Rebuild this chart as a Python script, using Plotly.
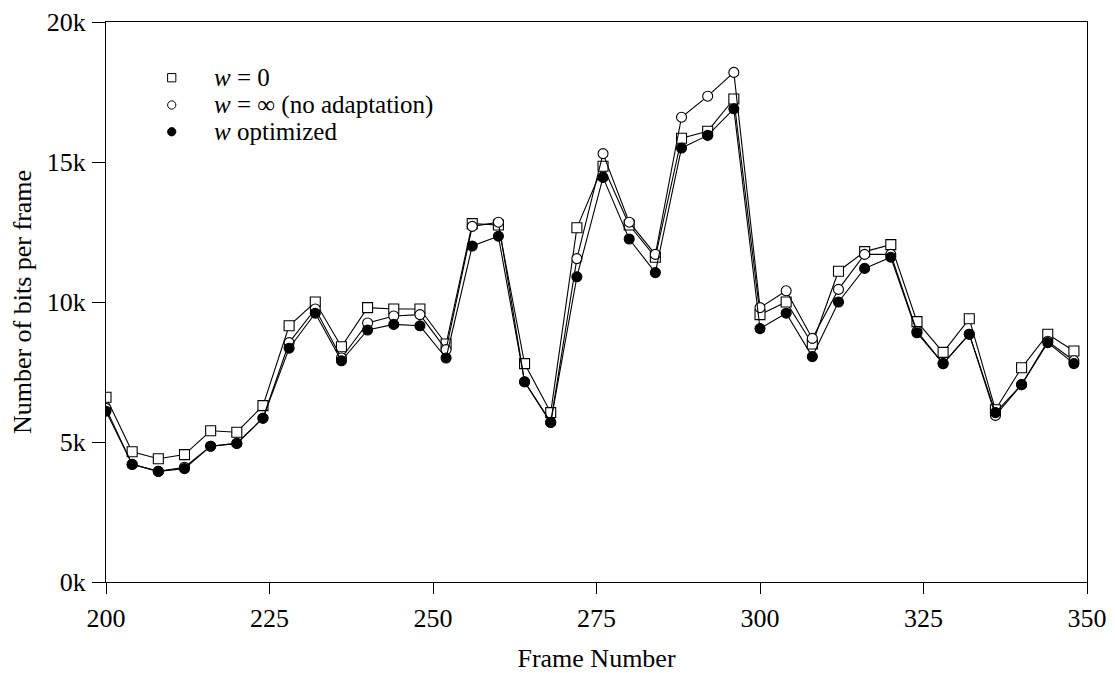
import plotly.graph_objects as go

frames = list(range(200, 352, 4))

w_zero = [6.6, 4.65, 4.4, 4.55, 5.4, 5.35, 6.3, 9.15, 10.0, 8.4,
          9.8, 9.75, 9.75, 8.5, 12.8, 12.75, 7.8, 6.05, 12.65, 14.85,
          12.75, 11.6, 15.85, 16.1, 17.25, 9.55, 10.0, 8.5, 11.1, 11.8,
          12.05, 9.3, 8.2, 9.4, 6.15, 7.65, 8.85, 8.25]
w_inf = [6.2, 4.2, 3.95, 4.1, 4.85, 4.95, 5.85, 8.55, 9.75, 8.0,
         9.25, 9.5, 9.55, 8.3, 12.7, 12.85, 7.15, 5.7, 11.55, 15.3,
         12.85, 11.7, 16.6, 17.35, 18.2, 9.8, 10.4, 8.7, 10.45, 11.7,
         11.7, 8.95, 7.8, 8.85, 5.95, 7.05, 8.6, 7.9]
w_opt = [6.1, 4.2, 3.95, 4.05, 4.85, 4.95, 5.85, 8.35, 9.6, 7.9,
         9.0, 9.2, 9.15, 8.0, 12.0, 12.35, 7.15, 5.7, 10.9, 14.45,
         12.25, 11.05, 15.5, 15.95, 16.9, 9.05, 9.6, 8.05, 10.0, 11.2,
         11.6, 8.9, 7.8, 8.85, 6.05, 7.05, 8.55, 7.8]

w_zero = [v * 1000 for v in w_zero]
w_inf = [v * 1000 for v in w_inf]
w_opt = [v * 1000 for v in w_opt]

names = ["<i>w</i> = 0", "<i>w</i> = ∞ (no adaptation)", "<i>w</i> optimized"]
y_tickvals = [0, 5000, 10000, 15000, 20000]
y_ticktext = ["0k", "5k", "10k", "15k", "20k"]
x_tickvals = [200, 225, 250, 275, 300, 325, 350]

FONT = "Liberation Serif, Times New Roman, serif"
FS = 26

# (values, symbol, fill colour, size)
series = [
    (w_zero, "square", "white", 10),
    (w_inf, "circle", "white", 10),
    (w_opt, "circle", "black", 10),
]

fig = go.Figure()
for vals, sym, fill, sz in series:
    fig.add_trace(go.Scatter(
        x=frames, y=vals, mode="lines+markers",
        line=dict(color="black", width=1.1),
        marker=dict(symbol=sym, size=sz, color=fill,
                    line=dict(color="black", width=1.1)),
        showlegend=False,
    ))

# Custom legend (marker glyph + text), placed in paper coordinates
leg_x_marker = 0.067
leg_x_text = 0.1077
leg_rows = [0.9005, 0.8518, 0.804]
mk_w = 0.0042   # half width in paper x
mk_h = 0.0074   # half height in paper y
shapes = []
for (vals, sym, fill, sz), ry in zip(series, leg_rows):
    shapes.append(dict(
        type="rect" if sym == "square" else "circle",
        xref="paper", yref="paper",
        x0=leg_x_marker - mk_w, x1=leg_x_marker + mk_w,
        y0=ry - mk_h, y1=ry + mk_h,
        line=dict(color="black", width=1), fillcolor=fill,
    ))
annotations = [
    dict(text=nm, xref="paper", yref="paper", x=leg_x_text, y=ry,
         xanchor="left", yanchor="middle", showarrow=False,
         font=dict(size=25, family=FONT, color="black"))
    for nm, ry in zip(names, leg_rows)
]

fig.update_layout(
    width=1107, height=665,
    margin=dict(l=98, r=28, t=14, b=91, autoexpand=False),
    paper_bgcolor="white", plot_bgcolor="white",
    font=dict(family=FONT, size=FS, color="black"),
    showlegend=False,
    shapes=shapes,
    annotations=annotations,
    xaxis=dict(range=[200, 350], tickvals=x_tickvals, ticks="outside", ticklen=11,
               tickcolor="black", tickwidth=1, showgrid=False, zeroline=False,
               showline=True, linecolor="black", linewidth=1, mirror=True,
               automargin=False, ticklabelstandoff=2,
               title=dict(text="Frame Number", font=dict(size=FS), standoff=18),
               tickfont=dict(size=FS)),
    yaxis=dict(range=[0, 20000], tickvals=y_tickvals, ticktext=y_ticktext,
               ticks="outside", ticklen=13, tickcolor="black", tickwidth=1,
               showgrid=False, zeroline=False, showline=True, linecolor="black",
               linewidth=1, mirror=True, automargin=False, ticklabelstandoff=1,
               title=dict(text="Number of bits per frame", font=dict(size=FS), standoff=14),
               tickfont=dict(size=FS)),
)

fig.write_html("out.html")
